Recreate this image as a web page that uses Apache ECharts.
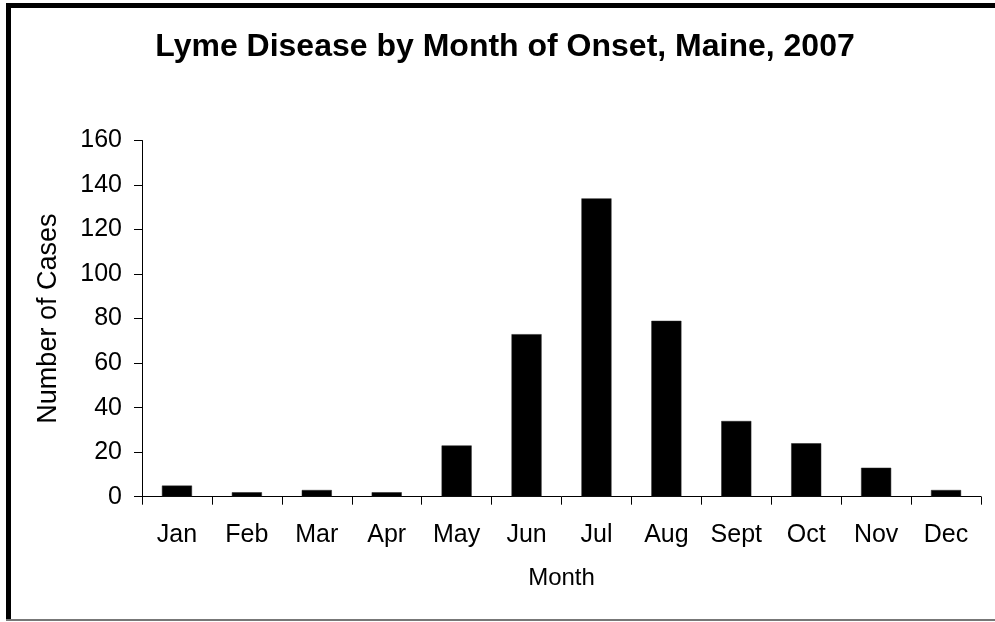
<!DOCTYPE html>
<html>
<head>
<meta charset="utf-8">
<script src="https://cdn.jsdelivr.net/npm/echarts@6/dist/echarts.min.js"></script>
<style>
  html, body { margin: 0; padding: 0; background: #fff; }
  #chart { width: 995px; height: 622px; }
</style>
</head>
<body>
<div id="chart"></div>
<script>
// Monthly Lyme disease case counts by month of onset
const months = ['Jan', 'Feb', 'Mar', 'Apr', 'May', 'Jun', 'Jul', 'Aug', 'Sept', 'Oct', 'Nov', 'Dec'];
const cases = [5, 2, 3, 2, 23, 73, 134, 79, 34, 24, 13, 3];
const yTicks = [0, 20, 40, 60, 80, 100, 120, 140, 160];

const FONT = '"Liberation Sans", Arial, sans-serif';

const chart = echarts.init(document.getElementById('chart'), null, { renderer: 'canvas' });

chart.setOption({
  backgroundColor: '#ffffff',
  animation: false,
  title: {
    text: 'Lyme Disease by Month of Onset, Maine, 2007',
    left: 500,
    textAlign: 'center',
    top: 26,
    textStyle: { fontFamily: FONT, fontSize: 32, fontWeight: 'bold', color: '#000' }
  },
  grid: { left: 142, right: 14, top: 140.5, bottom: 125.3, containLabel: false },
  xAxis: {
    type: 'category',
    data: months,
    name: 'Month',
    nameLocation: 'middle',
    nameGap: 70,
    nameTextStyle: { fontFamily: FONT, fontSize: 24, color: '#000' },
    axisLine: { lineStyle: { color: '#000', width: 1 } },
    axisTick: { show: true, alignWithLabel: false, length: 8, lineStyle: { color: '#000' } },
    axisLabel: { fontFamily: FONT, fontSize: 25, color: '#000', margin: 26, interval: 0 }
  },
  yAxis: {
    type: 'value',
    min: yTicks[0],
    max: yTicks[yTicks.length - 1],
    interval: yTicks[1] - yTicks[0],
    name: 'Number of Cases',
    nameLocation: 'middle',
    nameGap: 80,
    nameTextStyle: { fontFamily: FONT, fontSize: 27, color: '#000' },
    splitLine: { show: false },
    axisLine: { show: true, lineStyle: { color: '#000', width: 1 } },
    axisTick: { show: true, length: 8, lineStyle: { color: '#000' } },
    axisLabel: { fontFamily: FONT, fontSize: 25, color: '#000', margin: 20 }
  },
  series: [{
    type: 'bar',
    data: cases,
    barWidth: '43%',
    itemStyle: { color: '#000', borderColor: '#222', borderWidth: 0.5 }
  }],
  graphic: [
    // frame around the chart area
    { type: 'rect', shape: { x: 6, y: 3, width: 5, height: 617 }, style: { fill: '#000' } },
    { type: 'rect', shape: { x: 6, y: 3, width: 989, height: 5 }, style: { fill: '#000' } },
    { type: 'rect', shape: { x: 6, y: 619, width: 989, height: 2 }, style: { fill: '#777' } }
  ]
});
</script>
</body>
</html>
